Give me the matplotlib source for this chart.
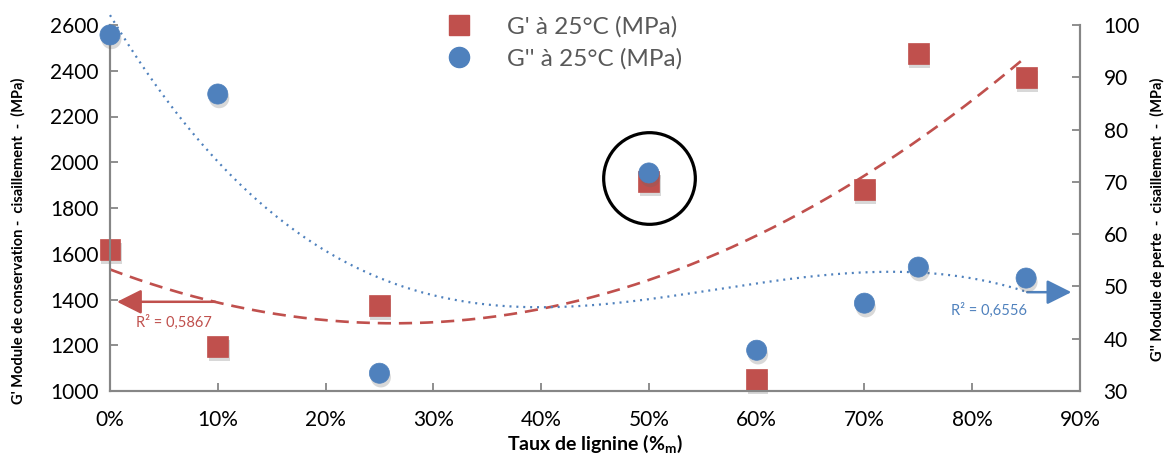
import numpy as np
import matplotlib
matplotlib.use("Agg")
import matplotlib.pyplot as plt
from matplotlib import patheffects as pe
from matplotlib.lines import Line2D

plt.rcParams['font.family'] = ['Lato', 'DejaVu Sans']
plt.rcParams['mathtext.fontset'] = 'custom'
plt.rcParams['mathtext.bf'] = 'Lato:bold'
plt.rcParams['mathtext.rm'] = 'Lato'

# ---- data ----
lignin = [0.0, 0.10, 0.25, 0.50, 0.60, 0.70, 0.75, 0.85]
g_prime = [1620, 1195, 1375, 1915, 1050, 1880, 2475, 2370]
g_second = [98.1, 86.8, 33.4, 71.7, 37.8, 46.8, 53.7, 51.6]
x_ticks = [0, 0.1, 0.2, 0.3, 0.4, 0.5, 0.6, 0.7, 0.8, 0.9]
x_ticklabels = ['0%', '10%', '20%', '30%', '40%', '50%', '60%', '70%', '80%', '90%']
left_ticks = [1000, 1200, 1400, 1600, 1800, 2000, 2200, 2400, 2600]
right_ticks = [30, 40, 50, 60, 70, 80, 90, 100]
label_gp = "G' à 25°C (MPa)"
label_gs = "G'' à 25°C (MPa)"
r2_gp = "R² = 0,5867"
r2_gs = "R² = 0,6556"

RED = '#C0504D'
BLUE = '#4F81BD'
SPINE = '#868686'

fig = plt.figure(figsize=(11.66, 4.55), dpi=100)
ax = fig.add_axes([110/1166, 1-391/455, (1080-110)/1166, (391-25)/455])
ax2 = ax.twinx()

ax.set_xlim(0, 0.9)
ax.set_ylim(1000, 2600)
ax2.set_ylim(30, 100)

shadow = [pe.SimplePatchShadow(offset=(1.0, -3.0), shadow_rgbFace='#666666', alpha=0.25), pe.Normal()]

# trend lines (polynomial fits)
xs = np.linspace(0, 0.85, 200)
p2 = np.polyfit(lignin, g_prime, 2)
ax.plot(xs, np.polyval(p2, xs), color=RED, lw=1.9, dashes=(5, 3), zorder=2)
p3 = np.polyfit(lignin, g_second, 3)
ax2.plot(xs, np.polyval(p3, xs), color=BLUE, lw=1.6, dashes=(0.9, 2.2), zorder=2, clip_on=False)

ax.plot(lignin, g_prime, 's', color=RED, ms=15, mec=RED, mew=0.5, zorder=3,
        path_effects=shadow, clip_on=False)
ax2.plot(lignin, g_second, 'o', color=BLUE, ms=14.5, mec=BLUE, mew=0.5, zorder=4,
         path_effects=shadow, clip_on=False)

# highlight circle
ax2.plot([lignin[3]], [g_second[3] - 0.9], 'o', ms=66, mfc='none', mec='black', mew=2.3, zorder=5)

# R² arrows and labels
ax.annotate('', xy=(0.0065, 1390), xytext=(0.0975, 1390),
            arrowprops=dict(arrowstyle='-|>,head_length=1.0,head_width=0.5', color=RED, lw=1.8,
                            mutation_scale=15, shrinkA=0, shrinkB=0))
ax.text(0.024, 1300, r2_gp, color=RED, fontsize=10.5, ha='left', va='center')
ax2.annotate('', xy=(0.892, 48.9), xytext=(0.851, 48.9),
             arrowprops=dict(arrowstyle='-|>,head_length=1.0,head_width=0.5', color=BLUE, lw=1.8,
                             mutation_scale=15, shrinkA=0, shrinkB=0))
ax2.text(0.8155, 45.5, r2_gs, color=BLUE, fontsize=10.5, ha='center', va='center')

# axes styling
for a in (ax, ax2):
    a.spines['top'].set_visible(False)
    for s in ('left', 'right', 'bottom'):
        a.spines[s].set_color(SPINE)
        a.spines[s].set_linewidth(1.5)
ax.set_xticks(x_ticks)
ax.set_xticklabels(x_ticklabels)
ax.set_yticks(left_ticks)
ax2.set_yticks(right_ticks)
ax.tick_params(axis='both', direction='in', length=6, width=1.3, color=SPINE, labelsize=15, pad=8)
ax.tick_params(axis='x', pad=14)
ax2.tick_params(axis='y', direction='in', length=6, width=1.3, color=SPINE, labelsize=15, pad=17)

ax.set_xlabel(r"Taux de lignine (%$_\mathbf{m}$)", fontsize=14, fontweight='bold', labelpad=0)
ax.xaxis.set_label_coords(0.5, -0.113)
ax.set_ylabel("G' Module de conservation -  cisaillement  -  (MPa)", fontsize=10.5, fontweight='bold')
ax.yaxis.set_label_coords(-0.087, 0.41)
ax2.set_ylabel("G'' Module de perte  -  cisaillement  -  (MPa)", fontsize=10.5, fontweight='bold',
               rotation=90)
ax2.yaxis.set_label_coords(1.072, 0.47)

handles = [Line2D([], [], ls='none', marker='s', color=RED, ms=15),
           Line2D([], [], ls='none', marker='o', color=BLUE, ms=14.5)]
leg = ax2.legend(handles, [label_gp, label_gs], loc='upper left', bbox_to_anchor=(0.322, 1.085),
                 frameon=False, fontsize=17.5, handletextpad=1.4, labelspacing=0.45, handlelength=1.2)
for t in leg.get_texts():
    t.set_color('#595959')

fig.savefig('out.png', dpi=100)
